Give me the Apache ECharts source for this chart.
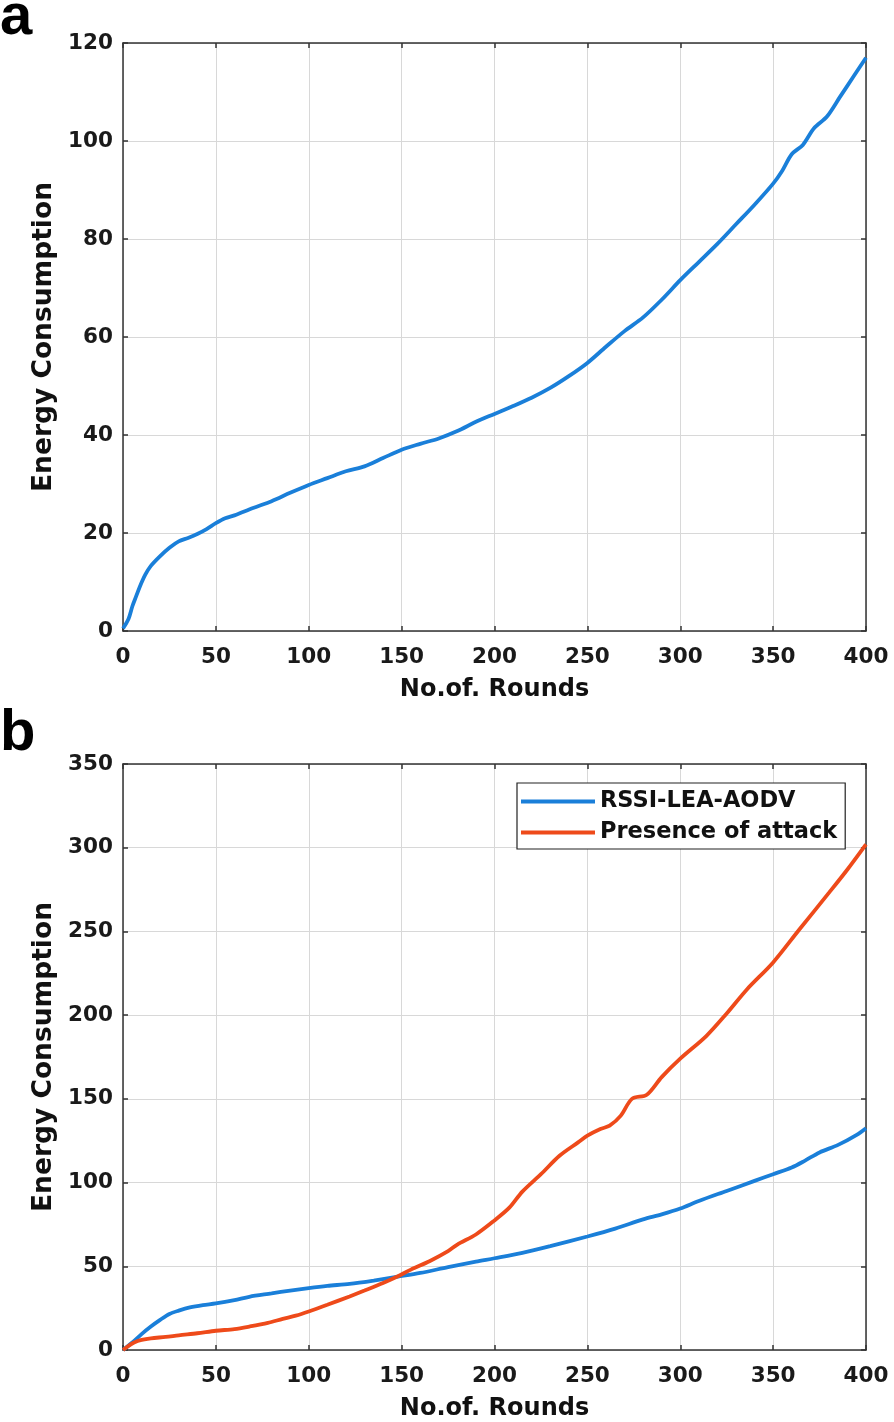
<!DOCTYPE html>
<html>
<head>
<meta charset="utf-8">
<script src="https://cdn.jsdelivr.net/npm/echarts@6/dist/echarts.min.js"></script>
<style>
html,body{margin:0;padding:0;background:#fff;}
#chart{width:894px;height:1422px;}
</style>
</head>
<body>
<div id="chart"></div>
<script>
// ---- Data ----
const xTicks = [0, 50, 100, 150, 200, 250, 300, 350, 400];

// Panel a: RSSI-LEA-AODV energy consumption
const roundsA = [0, 3, 5, 7, 9, 12, 15, 20, 25, 30, 35, 40, 45, 50, 55, 60, 70, 80, 90, 100,
  110, 120, 130, 140, 150, 160, 170, 180, 190, 200, 210, 220, 230, 240, 250, 260, 270, 280,
  290, 300, 310, 320, 330, 340, 350, 355, 360, 366, 372, 379, 386, 393, 400];
const energyA = [0.5, 2.5, 5, 7, 9, 11.5, 13.3, 15.3, 17, 18.3, 19, 19.8, 20.8, 22, 23, 23.6, 25.1, 26.5, 28.2, 29.8,
  31.2, 32.6, 33.6, 35.3, 37, 38.2, 39.3, 40.8, 42.7, 44.3, 45.9, 47.6, 49.6, 52, 54.7, 58, 61.2, 64,
  67.6, 71.6, 75.3, 79, 83, 87, 91.3, 94, 97.3, 99.2, 102.6, 105, 109, 113, 117];

// Panel b: RSSI-LEA-AODV
const roundsB1 = [0, 5, 10, 15, 20, 25, 30, 36, 43, 50, 60, 68, 80, 90, 100, 110, 122, 135, 148, 160,
  175, 190, 200, 215, 230, 250, 265, 280, 290, 300, 310, 325, 340, 350, 360, 367, 375, 385, 395, 400];
const energyB1 = [0, 4.5, 9.5, 14, 18, 21.5, 23.5, 25.4, 26.8, 27.8, 29.8, 31.8, 33.8, 35.5, 37, 38.3, 39.5, 41.5, 43.8, 46,
  49.5, 52.8, 54.8, 58, 62, 67.8, 72.5, 78, 81, 84.5, 89, 95, 101, 105, 109, 113, 118, 122.5, 128.5, 132.5];

// Panel b: Presence of attack
const roundsB2 = [0, 3, 6, 10, 15, 23, 30, 40, 50, 60, 68, 78, 86, 93, 100, 110, 122, 130, 140, 148,
  155, 165, 175, 180, 190, 200, 208, 215, 225, 235, 245, 250, 257, 262, 268, 274, 282, 290, 300,
  314, 325, 336, 350, 364, 380, 390, 400];
const energyB2 = [0, 2.5, 4.5, 6, 7, 7.8, 8.8, 10, 11.5, 12.5, 14, 16.2, 18.6, 20.5, 23, 27, 32, 35.5, 40, 44,
  48, 53, 59, 63, 69, 77.4, 85, 94.6, 105, 116, 124, 128, 132, 134, 140, 150, 152.5, 163, 174,
  187.5, 201, 215.5, 231.5, 251, 273, 287, 302];

const seriesNames = ['RSSI-LEA-AODV', 'Presence of attack'];
const panelLabels = ['a', 'b'];
const xTitle = 'No.of. Rounds';
const yTitle = 'Energy Consumption';

// ---- Build chart ----
const pairs = (xs, ys) => xs.map((x, i) => [x, ys[i]]);
const FONT = 'DejaVu Sans';
const BLUE = '#1a7fd9';
const RED = '#ee4a1a';
const AX = '#333333';

function xAxes(gridIndex) {
  const common = {
    type: 'value', gridIndex, min: 0, max: 400, interval: 50,
    axisLine: { show: true, onZero: false, lineStyle: { color: AX, width: 1.5 } },
    axisTick: { show: true, inside: true, length: 5, lineStyle: { color: AX, width: 1.5 } },
  };
  return [
    Object.assign({}, common, {
      position: 'bottom',
      axisLabel: { show: true, margin: 15, color: '#1a1a1a', fontFamily: FONT, fontWeight: 'bold', fontSize: 21.5 },
      splitLine: { show: true, lineStyle: { color: '#d8d8d8', width: 1 } },
      name: xTitle, nameLocation: 'middle', nameGap: 47,
      nameTextStyle: { color: '#111', fontFamily: FONT, fontWeight: 'bold', fontSize: 24 }
    }),
    Object.assign({}, common, {
      position: 'top',
      axisLabel: { show: false }, splitLine: { show: false }
    })
  ];
}
function yAxes(gridIndex, max, interval) {
  const common = {
    type: 'value', gridIndex, min: 0, max, interval,
    axisLine: { show: true, onZero: false, lineStyle: { color: AX, width: 1.5 } },
    axisTick: { show: true, inside: true, length: 5, lineStyle: { color: AX, width: 1.5 } },
  };
  return [
    Object.assign({}, common, {
      position: 'left',
      axisLabel: { show: true, margin: 10, color: '#1a1a1a', fontFamily: FONT, fontWeight: 'bold', fontSize: 21.5 },
      splitLine: { show: true, lineStyle: { color: '#d8d8d8', width: 1 } },
      name: yTitle, nameLocation: 'middle', nameGap: 64, nameRotate: 90,
      nameTextStyle: { color: '#111', fontFamily: FONT, fontWeight: 'bold', fontSize: 26.5 }
    }),
    Object.assign({}, common, {
      position: 'right',
      axisLabel: { show: false }, splitLine: { show: false }
    })
  ];
}

const chart = echarts.init(document.getElementById('chart'), null, { renderer: 'canvas' });
chart.setOption({
  backgroundColor: '#ffffff',
  animation: false,
  grid: [
    { left: 123, top: 43, width: 743, height: 588 },
    { left: 123, top: 764, width: 743, height: 588 }
  ],
  xAxis: [...xAxes(0), ...xAxes(1)],
  yAxis: [...yAxes(0, 120, 20), ...yAxes(1, 350, 50)],
  legend: {
    show: true,
    data: seriesNames,
    orient: 'vertical',
    left: 517, top: 783,
    padding: [7, 8, 5, 4],
    itemGap: 8,
    itemWidth: 74, itemHeight: 4,
    icon: 'rect',
    borderColor: '#222', borderWidth: 1.2,
    backgroundColor: '#fff',
    textStyle: { color: '#111', fontFamily: FONT, fontWeight: 'bold', fontSize: 22.5 }
  },
  graphic: [
    { type: 'text', left: 0, top: -11, style: { text: panelLabels[0], font: 'bold 58px "Liberation Sans"', fill: '#000' } },
    { type: 'text', left: 0, top: 705, style: { text: panelLabels[1], font: 'bold 58px "Liberation Sans"', fill: '#000' } }
  ],
  series: [
    {
      name: 'panelA', type: 'line', xAxisIndex: 0, yAxisIndex: 0,
      data: pairs(roundsA, energyA), showSymbol: false, symbol: 'none', smooth: 0.3,
      lineStyle: { color: BLUE, width: 3.8 }, itemStyle: { color: BLUE }
    },
    {
      name: seriesNames[0], type: 'line', xAxisIndex: 2, yAxisIndex: 2,
      data: pairs(roundsB1, energyB1), showSymbol: false, symbol: 'none', smooth: 0.3,
      lineStyle: { color: BLUE, width: 3.8 }, itemStyle: { color: BLUE }
    },
    {
      name: seriesNames[1], type: 'line', xAxisIndex: 2, yAxisIndex: 2,
      data: pairs(roundsB2, energyB2), showSymbol: false, symbol: 'none', smooth: 0.3,
      lineStyle: { color: RED, width: 3.8 }, itemStyle: { color: RED }
    }
  ]
});
</script>
</body>
</html>
